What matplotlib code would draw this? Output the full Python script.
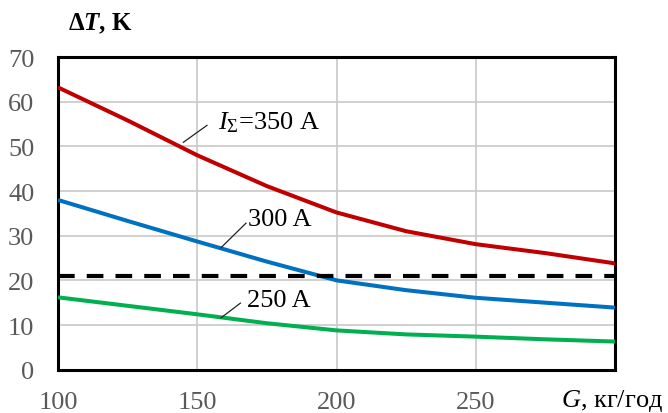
import matplotlib
matplotlib.use("Agg")
import matplotlib.pyplot as plt

plt.rcParams['font.family'] = ['Liberation Serif', 'DejaVu Serif']
plt.rcParams['mathtext.fontset'] = 'custom'
plt.rcParams['mathtext.rm'] = 'Liberation Serif'
plt.rcParams['mathtext.it'] = 'Liberation Serif:italic'
plt.rcParams['mathtext.bf'] = 'Liberation Serif:bold'
plt.rcParams['mathtext.bfit'] = 'Liberation Serif:italic:bold'

# Data
G = [100, 125, 150, 175, 200, 225, 250, 275, 300]
dT_350 = [63.2, 55.8, 48.0, 41.1, 35.2, 31.0, 28.1, 26.1, 23.8]
dT_300 = [38.0, 33.3, 28.7, 24.2, 20.0, 17.8, 16.1, 15.0, 13.9]
dT_250 = [16.2, 14.3, 12.4, 10.4, 8.8, 7.9, 7.4, 6.8, 6.3]
limit = 21.0
xticks = [100, 150, 200, 250]
yticks = [0, 10, 20, 30, 40, 50, 60, 70]

fig = plt.figure(figsize=(6.68, 4.14), dpi=100)
ax = fig.add_axes([58/668, 1-370.7/414, (615-58)/668, (370.7-58)/414])

ax.set_xlim(100, 300)
ax.set_ylim(0, 70)
ax.set_xticks(xticks + [300])
ax.set_xticklabels([str(v) for v in xticks] + [''])
ax.set_yticks(yticks)
ax.grid(True, color='#c8c8c8', linewidth=1.2)
ax.set_axisbelow(True)
for s in ax.spines.values():
    s.set_linewidth(2.2)
    s.set_color('black')
ax.tick_params(length=0, labelsize=19, labelcolor='#595959')
ax.tick_params(axis='y', pad=17)
ax.tick_params(axis='x', pad=15)

ax.plot(G, dT_350, color='#C00000', lw=2.9, solid_capstyle='butt', zorder=3)
ax.plot(G, dT_300, color='#0070C0', lw=2.9, solid_capstyle='butt', zorder=3)
ax.plot(G, dT_250, color='#00B050', lw=2.9, solid_capstyle='butt', zorder=3)
ax.axhline(limit, color='black', lw=3.0, dashes=(4.0, 2.9), zorder=3)

# annotations
ax.plot([145, 153.5], [50.9, 54.7], color='#222222', lw=0.9, zorder=4)
ax.text(157.5, 55.6, r'$I_{\Sigma}$=350 A', fontsize=19, va='center', ha='left')
ax.plot([158.5, 167.5], [27.3, 32.8], color='#222222', lw=0.9, zorder=4)
ax.text(168.2, 33.7, '300 A', fontsize=19, va='center', ha='left')
ax.plot([158.5, 165.5], [11.6, 14.9], color='#222222', lw=0.9, zorder=4)
ax.text(167.7, 15.6, '250 A', fontsize=19, va='center', ha='left')

fig.text(68/668, 1-24/414, r'$\mathbf{\Delta}\mathbfit{T}$, K', fontsize=18,
         fontweight='bold', ha='left', va='center')
fig.text(663/668, 1-401/414, r'$G$, кг/год', fontsize=19, ha='right', va='center')

fig.savefig('out.png', dpi=100)
